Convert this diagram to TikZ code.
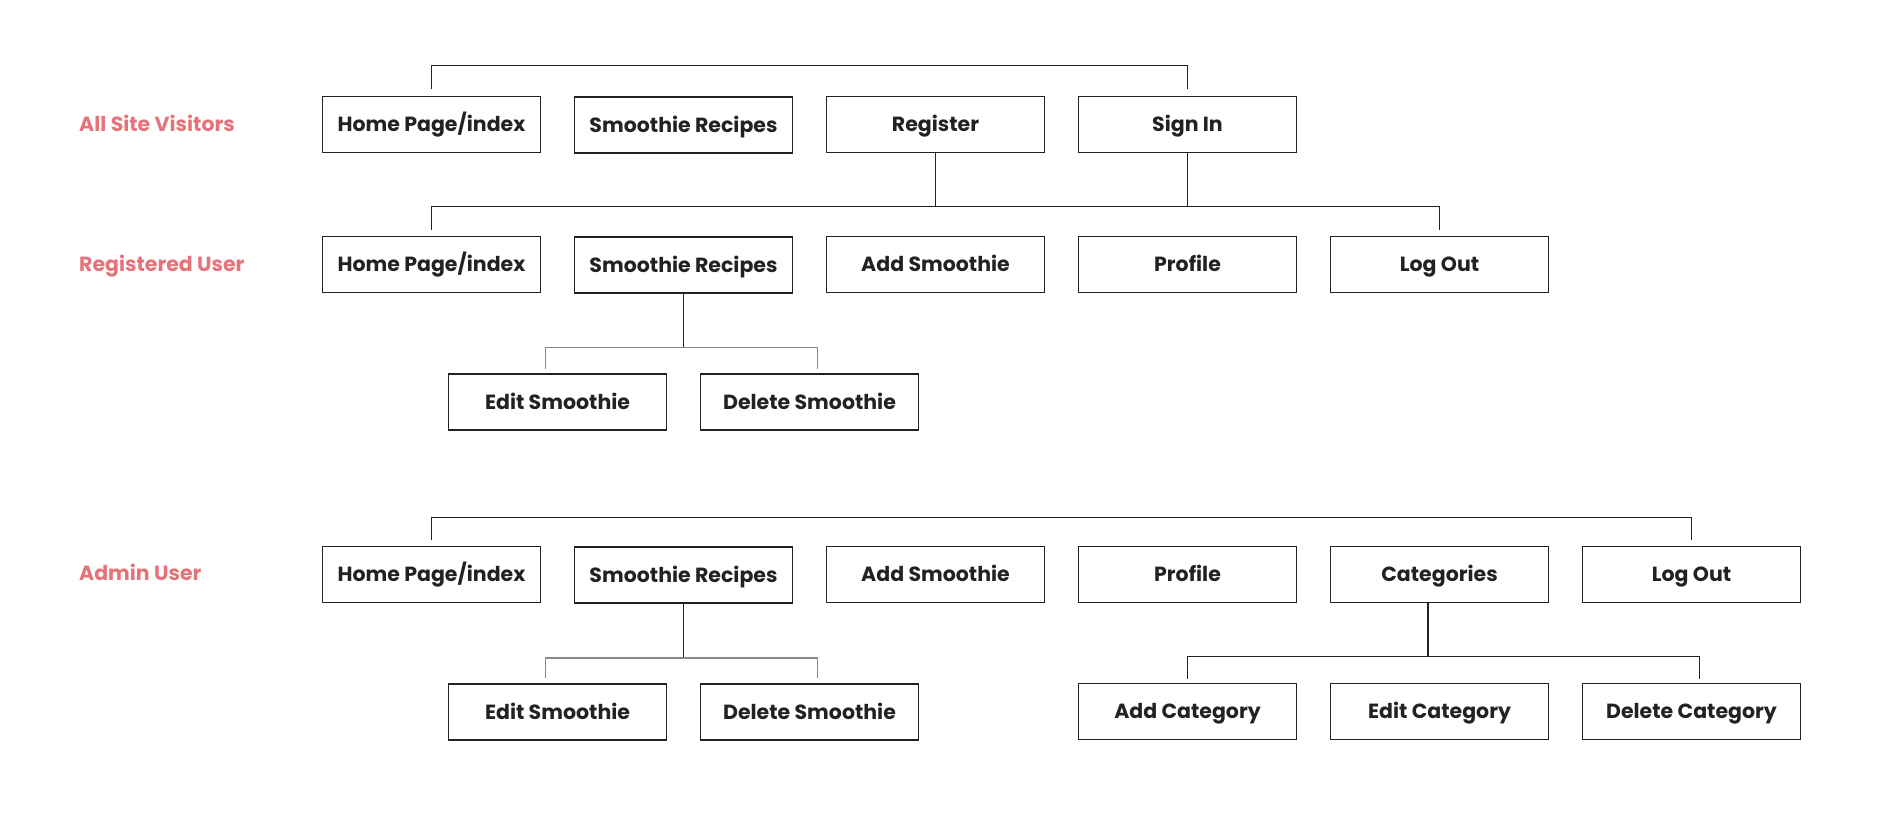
\documentclass[tikz,border=0pt]{standalone}
\usepackage{fontspec}
\setmainfont{Poppins}
\definecolor{rolered}{HTML}{E5737A}
\definecolor{boxline}{HTML}{222222}
\definecolor{subline}{HTML}{888888}
\begin{document}
\begin{tikzpicture}[x=1pt,y=1pt]

    \tikzset{
      page/.style={
        draw=boxline,
        line width=1.8pt,
        minimum width=218pt,
        minimum height=56pt,
        inner sep=0pt,
        text height=14.5pt,
        text depth=0pt,
        font=\fontsize{20.5}{22}\selectfont\bfseries,
        text=boxline,
      },
      role/.style={
        anchor=west,
        inner sep=0pt,
        text height=14.5pt,
        text depth=0pt,
        font=\fontsize{20.5}{22}\selectfont\bfseries,
        text=rolered,
      },
      link/.style={draw=boxline,line width=1.5pt},
      sublink/.style={draw=subline,line width=1.5pt},
    }
    \useasboundingbox (0,0) rectangle (1900,-824);

	% all site visitors
	\node[role] (visitors) at (79,-124.5) {All Site Visitors};
	\node[page] (home1) at (431.5,-124.5) {Home Page/index};
	\node[page] (recipes1) at (683.5,-125) {Smoothie Recipes};
	\node[page] (register) at (935.5,-124.5) {Register};
	\node[page] (signin) at (1187.5,-124.5) {Sign In};

	% registered user
	\node[role] (registered) at (79,-264.5) {Registered User};
	\node[page] (home2) at (431.5,-264.5) {Home Page/index};
	\node[page] (recipes2) at (683.5,-265) {Smoothie Recipes};
	\node[page] (add2) at (935.5,-264.5) {Add Smoothie};
	\node[page] (profile2) at (1187.5,-264.5) {Profile};
	\node[page] (logout2) at (1439.5,-264.5) {Log Out};
	\node[page] (edit2) at (557.5,-402) {Edit Smoothie};
	\node[page] (delete2) at (809.5,-402) {Delete Smoothie};

	% admin user
	\node[role] (admin) at (79,-573.5) {Admin User};
	\node[page] (home3) at (431.5,-574.5) {Home Page/index};
	\node[page] (recipes3) at (683.5,-575) {Smoothie Recipes};
	\node[page] (add3) at (935.5,-574.5) {Add Smoothie};
	\node[page] (profile3) at (1187.5,-574.5) {Profile};
	\node[page] (categories) at (1439.5,-574.5) {Categories};
	\node[page] (logout3) at (1691.5,-574.5) {Log Out};
	\node[page] (edit3) at (557.5,-712) {Edit Smoothie};
	\node[page] (delete3) at (809.5,-712) {Delete Smoothie};
	\node[page] (addcat) at (1187.5,-711.5) {Add Category};
	\node[page] (editcat) at (1439.5,-711.5) {Edit Category};
	\node[page] (deletecat) at (1691.5,-711.5) {Delete Category};

	% connectors
	\coordinate (fork2) at (683.5,-347.7);
	\coordinate (fork3) at (683.5,-658);
	\coordinate (forkcat) at (1428,-656.7);
	\draw[link] ([yshift=7pt]home1.north) |- ([yshift=30pt]signin.north) -- ([yshift=7pt]signin.north);
	\draw[link] ([yshift=6pt]home2.north) |- ([yshift=29pt]logout2.north) -- ([yshift=6pt]logout2.north);
	\draw[link] (register.south) -- ([yshift=29pt]register.south |- home2.north);
	\draw[link] (signin.south) -- ([yshift=29pt]signin.south |- home2.north);
	\draw[link] (recipes2.south) -- (fork2);
	\draw[sublink] ([xshift=-12pt,yshift=4pt]edit2.north) |- (fork2) -| ([xshift=8pt,yshift=4pt]delete2.north);
	\draw[link] ([yshift=6pt]home3.north) |- ([yshift=28pt]logout3.north) -- ([yshift=6pt]logout3.north);
	\draw[link] (recipes3.south) -- (fork3);
	\draw[sublink] ([xshift=-12pt,yshift=5pt]edit3.north) |- (fork3) -| ([xshift=8pt,yshift=5pt]delete3.north);
	\draw[link] (categories.south -| forkcat) -- (forkcat);
	\draw[link] ([yshift=4pt]addcat.north) |- (forkcat) -| ([xshift=8pt,yshift=4pt]deletecat.north);

\end{tikzpicture}
\end{document}
